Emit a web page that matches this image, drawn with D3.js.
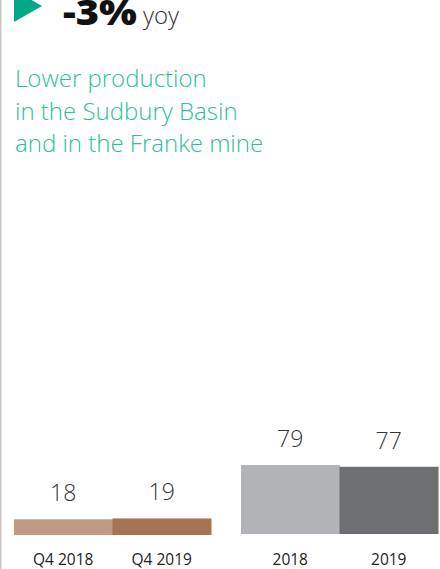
<!DOCTYPE html>
<html><head><meta charset="utf-8">
<script src="https://cdn.jsdelivr.net/npm/d3@7"></script>
<style>
html,body{margin:0;padding:0;background:#fff;}
svg{display:block;font-family:"Open Sans",sans-serif;}
</style></head><body>
<div id="chart"></div>
<script>
const quarterCats = ["Q4 2018", "Q4 2019"];
const quarterVals = [18, 19];
const yearCats = ["2018", "2019"];
const yearVals = [79, 77];
const quarterColors = ["#c09a82", "#a57453"];
const yearColors = ["#b1b3b6", "#6d6e71"];
const headline = "-3%";
const headlineSuffix = "yoy";
const subtitle = ["Lower production", "in the Sudbury Basin", "and in the Franke mine"];

const W = 440, H = 569;
const svg = d3.select("#chart").append("svg").attr("width", W).attr("height", H);

svg.append("rect").attr("x", 0).attr("y", 0).attr("width", 1.5).attr("height", H).attr("fill", "#c8c8c8");

// triangle
svg.append("path").attr("d", "M14,-10 L42,6 L14,22 Z").attr("fill", "#00a887");

svg.append("text").attr("x", 63).attr("y", 25)
  .attr("font-size", 35).attr("font-weight", 800).attr("fill", "#111")
  .attr("textLength", 74).attr("lengthAdjust", "spacingAndGlyphs")
  .text(headline);
svg.append("text").attr("x", 143).attr("y", 24)
  .attr("font-size", 24).attr("font-weight", 300).attr("fill", "#333")
  .text(headlineSuffix);

svg.append("g").selectAll("text").data(subtitle).join("text")
  .attr("x", 15).attr("y", (d, i) => 87 + i * 32.5)
  .attr("font-size", 24).attr("font-weight", 300).attr("fill", "#2cbf9c")
  .text(d => d);

const y = d3.scaleLinear().domain([0, 100]).range([535, 535 - 87.3]);

function group(cats, vals, colors, x0, x1, base) {
  const x = d3.scaleBand().domain(cats).range([x0, x1]).padding(0);
  const yy = y.copy().range([base, base - 87.3]);
  const g = svg.append("g");
  g.selectAll("rect").data(cats).join("rect")
    .attr("x", d => x(d)).attr("width", x.bandwidth() + 0.5)
    .attr("y", (d, i) => yy(vals[i])).attr("height", (d, i) => base - yy(vals[i]))
    .attr("fill", (d, i) => colors[i]);
  g.selectAll("text.v").data(cats).join("text").attr("class", "v")
    .attr("x", d => x(d) + x.bandwidth() / 2).attr("y", (d, i) => yy(vals[i]) - 18)
    .attr("text-anchor", "middle").attr("font-size", 23).attr("font-weight", 300).attr("fill", "#333")
    .text((d, i) => vals[i]);
  const ax = d3.axisBottom(x).tickSize(0).tickPadding(0);
  const axg = g.append("g").attr("transform", `translate(0,${565})`).call(ax);
  axg.select(".domain").remove();
  axg.selectAll("text").attr("font-size", 15.5).attr("font-family", "Open Sans").attr("fill", "#222").attr("dy", "0").attr("y", 0);
}
group(quarterCats, quarterVals, quarterColors, 14, 211, 535);
group(yearCats, yearVals, yearColors, 241, 438, 534);
</script></body></html>
